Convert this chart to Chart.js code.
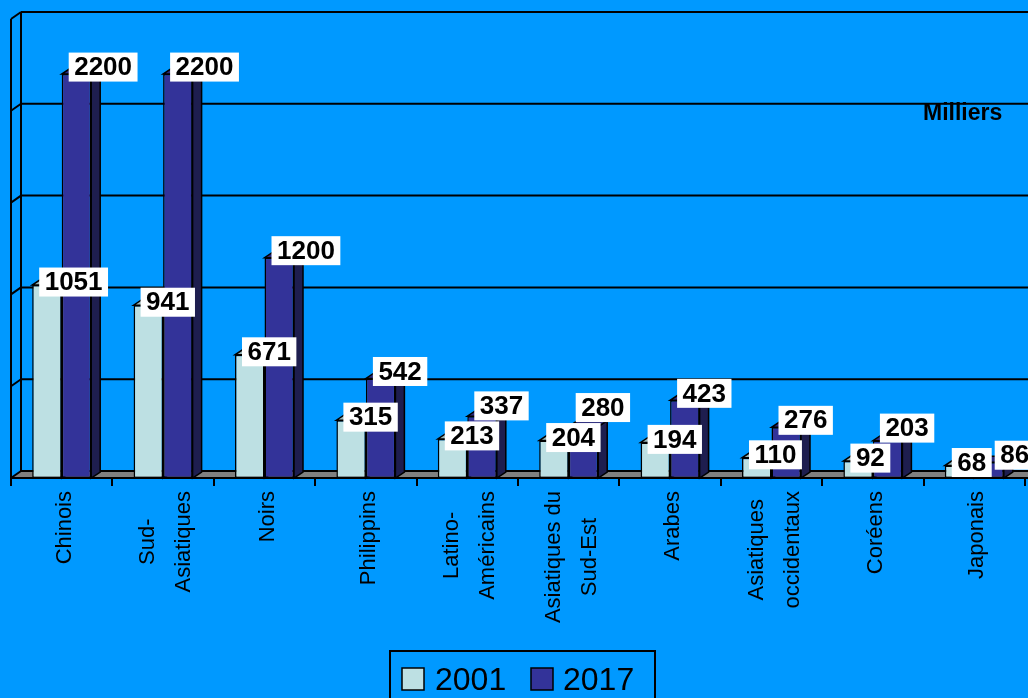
<!DOCTYPE html>
<html>
<head>
<meta charset="utf-8">
<script src="https://cdn.jsdelivr.net/npm/chart.js@4.4.1/dist/chart.umd.min.js"></script>
<style>
html,body{margin:0;padding:0;background:#0099FF;overflow:hidden;}
#wrap{width:1028px;height:698px;}
</style>
</head>
<body>
<div id="wrap"><canvas id="c" width="1028" height="698"></canvas></div>
<script>
const categories = [
  ["Chinois"], ["Sud-", "Asiatiques"], ["Noirs"], ["Philippins"], ["Latino-", "Américains"],
  ["Asiatiques du", "Sud-Est"], ["Arabes"], ["Asiatiques", "occidentaux"], ["Coréens"], ["Japonais"]
];
const values2001 = [1051, 941, 671, 315, 213, 204, 194, 110, 92, 68];
const values2017 = [2200, 2200, 1200, 542, 337, 280, 423, 276, 203, 86];
const seriesNames = ["2001", "2017"];
const yTicks = [0, 500, 1000, 1500, 2000, 2500];
const unitLabel = "Milliers";

const FONT = '"Liberation Sans", Arial, sans-serif';
const faceColors = [
  { front: "#BDE0E3", top: "#98B6B9", side: "#7F9A9C" },
  { front: "#333399", top: "#2A2A7C", side: "#1E1E4F" }
];
const WALL = { dx: 10, dy: -7 };
const BAR = { dx: 9, dy: -6 };
const LABEL_LIFT = [3, 7];

const threeD = {
  id: "threeD",
  beforeDraw(chart) {
    const ctx = chart.ctx;
    ctx.save();
    ctx.fillStyle = "#0099FF";
    ctx.fillRect(0, 0, chart.width, chart.height);
    ctx.restore();
  },
  beforeDatasetsDraw(chart) {
    const { ctx, chartArea: a, scales: { x, y } } = chart;
    const b = y.getPixelForValue(0);
    const t = y.getPixelForValue(yTicks[yTicks.length - 1]);
    ctx.save();
    ctx.strokeStyle = "#000";
    ctx.lineWidth = 2;
    // floor
    ctx.fillStyle = "#808080";
    ctx.beginPath();
    ctx.moveTo(a.left, b);
    ctx.lineTo(a.right + 40, b);
    ctx.lineTo(a.right + 40 + WALL.dx, b + WALL.dy);
    ctx.lineTo(a.left + WALL.dx, b + WALL.dy);
    ctx.closePath();
    ctx.fill();
    // back wall gridlines + left wall diagonals
    yTicks.forEach(v => {
      const py = y.getPixelForValue(v);
      ctx.beginPath();
      ctx.moveTo(a.left + WALL.dx, py + WALL.dy);
      ctx.lineTo(chart.width + 20, py + WALL.dy);
      ctx.stroke();
      ctx.beginPath();
      ctx.moveTo(a.left, py);
      ctx.lineTo(a.left + WALL.dx, py + WALL.dy);
      ctx.stroke();
    });
    // left wall verticals
    ctx.beginPath();
    ctx.moveTo(a.left, t);
    ctx.lineTo(a.left, b);
    ctx.moveTo(a.left + WALL.dx, t + WALL.dy);
    ctx.lineTo(a.left + WALL.dx, b + WALL.dy);
    ctx.stroke();
    // bar extrusions
    ctx.lineWidth = 1.5;
    for (let i = 0; i < categories.length; i++) {
      chart.data.datasets.forEach((ds, di) => {
        const el = chart.getDatasetMeta(di).data[i];
        const p = el.getProps(["x", "y", "base", "width"], true);
        const L = p.x - p.width / 2, R = p.x + p.width / 2, T = p.y, B = p.base;
        const c = faceColors[di];
        ctx.fillStyle = c.side;
        ctx.beginPath();
        ctx.moveTo(R, T);
        ctx.lineTo(R + BAR.dx, T + BAR.dy);
        ctx.lineTo(R + BAR.dx, B + BAR.dy);
        ctx.lineTo(R, B);
        ctx.closePath();
        ctx.fill(); ctx.stroke();
        ctx.fillStyle = c.top;
        ctx.beginPath();
        ctx.moveTo(L, T);
        ctx.lineTo(R, T);
        ctx.lineTo(R + BAR.dx, T + BAR.dy);
        ctx.lineTo(L + BAR.dx, T + BAR.dy);
        ctx.closePath();
        ctx.fill(); ctx.stroke();
      });
    }
    ctx.restore();
  },
  afterDatasetsDraw(chart) {
    const { ctx, chartArea: a, scales: { x, y } } = chart;
    const b = y.getPixelForValue(0);
    ctx.save();
    ctx.strokeStyle = "#000";
    ctx.lineWidth = 2;
    // front axis line + ticks
    ctx.beginPath();
    ctx.moveTo(a.left, b);
    ctx.lineTo(chart.width + 20, b);
    const n = categories.length;
    const cw = (a.right - a.left) / n;
    for (let i = 0; i <= n; i++) {
      const tx = Math.round(a.left + i * cw);
      ctx.moveTo(tx, b);
      ctx.lineTo(tx, b + 8);
    }
    ctx.stroke();
    // category labels
    ctx.fillStyle = "#000";
    ctx.font = "22px " + FONT;
    ctx.textAlign = "center";
    ctx.textBaseline = "middle";
    categories.forEach((lines, i) => {
      const cx = x.getPixelForValue(i);
      const maxW = Math.max(...lines.map(s => ctx.measureText(s).width));
      lines.forEach((s, j) => {
        ctx.save();
        ctx.translate(cx + 3 + (j - (lines.length - 1) / 2) * 36, b + 13 + maxW / 2);
        ctx.rotate(-Math.PI / 2);
        ctx.fillText(s, 0, 0);
        ctx.restore();
      });
    });
    // data labels
    ctx.font = "bold 26px " + FONT;
    for (let i = 0; i < n; i++) {
      let prev = null;
      chart.data.datasets.forEach((ds, di) => {
        const el = chart.getDatasetMeta(di).data[i];
        const p = el.getProps(["x", "y", "width"], true);
        const txt = String(ds.data[i]);
        const w = ctx.measureText(txt).width + 11, h = 29;
        const left = p.x - p.width / 2 + 7;
        const cy = p.y - LABEL_LIFT[di];
        const box = { l: left, r: left + w, t: cy - h / 2, b: cy + h / 2 };
        if (prev && box.l < prev.r && box.r > prev.l && box.t < prev.b && box.b > prev.t) {
          const up = box.b - prev.t + 1;
          if (up <= 20) {
            box.t -= up; box.b -= up;
          } else {
            box.l = prev.r + 3; box.r = box.l + w;
          }
        }
        ctx.fillStyle = "#fff";
        ctx.fillRect(box.l, box.t, w, h);
        ctx.fillStyle = "#000";
        ctx.textAlign = "center";
        ctx.textBaseline = "middle";
        ctx.fillText(txt, box.l + w / 2, (box.t + box.b) / 2 + 1);
        prev = box;
      });
    }
    // unit label
    ctx.font = "bold 23px " + FONT;
    ctx.textAlign = "left";
    ctx.textBaseline = "alphabetic";
    ctx.fillText(unitLabel, 923, 120);
    // legend
    ctx.lineWidth = 2;
    ctx.strokeRect(390, 651, 265, 60);
    ctx.font = "32px " + FONT;
    const items = [{ sx: 402, tx: 435 }, { sx: 531, tx: 563 }];
    chart.data.datasets.forEach((ds, di) => {
      const it = items[di];
      ctx.fillStyle = ds.backgroundColor;
      ctx.fillRect(it.sx, 668, 22, 22);
      ctx.lineWidth = 1.5;
      ctx.strokeRect(it.sx, 668, 22, 22);
      ctx.fillStyle = "#000";
      ctx.fillText(ds.label, it.tx, 690);
    });
    ctx.restore();
  }
};

new Chart(document.getElementById("c"), {
  type: "bar",
  data: {
    labels: categories,
    datasets: [
      { label: seriesNames[0], data: values2001, backgroundColor: faceColors[0].front, borderColor: "#000", borderWidth: 1.5, borderSkipped: false },
      { label: seriesNames[1], data: values2017, backgroundColor: faceColors[1].front, borderColor: "#000", borderWidth: 1.5, borderSkipped: false }
    ]
  },
  options: {
    responsive: false,
    animation: false,
    events: [],
    layout: { padding: { left: 11, right: 3, top: 19, bottom: 220 } },
    datasets: { bar: { categoryPercentage: 0.582, barPercentage: 1.0 } },
    scales: {
      x: { display: false, offset: true },
      y: { display: false, min: 0, max: 2500 }
    },
    plugins: { legend: { display: false }, tooltip: { enabled: false } }
  },
  plugins: [threeD]
});
</script>
</body>
</html>
